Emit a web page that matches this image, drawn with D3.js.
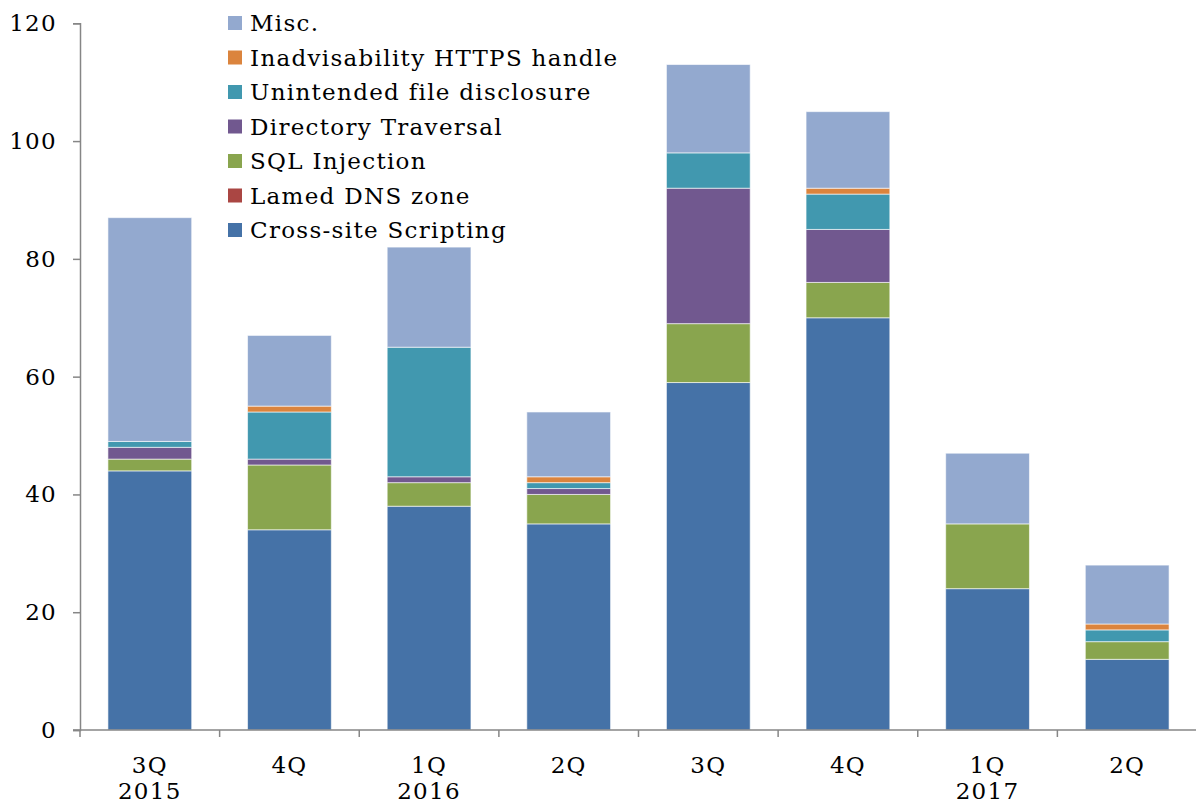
<!DOCTYPE html>
<html>
<head>
<meta charset="utf-8">
<script src="https://cdn.jsdelivr.net/npm/d3@7"></script>
<style>
  body { margin: 0; background: #fff; }
  text { font-family: "DejaVu Serif", serif; fill: #000; letter-spacing: 1.3px; }
</style>
</head>
<body>
<div id="chart"></div>
<script>
// quarters along the x axis, with the year shown under some of them
const quarters = ["3Q", "4Q", "1Q", "2Q", "3Q", "4Q", "1Q", "2Q"];
const years = ["2015", "", "2016", "", "", "", "2017", ""];

// series, bottom to top
const seriesNames = [
  "Cross-site Scripting",
  "Lamed DNS zone",
  "SQL Injection",
  "Directory Traversal",
  "Unintended file disclosure",
  "Inadvisability HTTPS handle",
  "Misc."
];
const seriesColors = ["#4572A7", "#AA4643", "#89A54E", "#71588F", "#4198AF", "#DB843D", "#93A9CF"];

const xss = [44, 34, 38, 35, 59, 70, 24, 12];
const lamedDns = [0, 0, 0, 0, 0, 0, 0, 0];
const sqlInj = [2, 11, 4, 5, 10, 6, 11, 3];
const dirTrav = [2, 1, 1, 1, 23, 9, 0, 0];
const fileDisc = [1, 8, 22, 1, 6, 6, 0, 2];
const httpsHandle = [0, 1, 0, 1, 0, 1, 0, 1];
const misc = [38, 12, 17, 11, 15, 13, 12, 10];

const yTicks = [0, 20, 40, 60, 80, 100, 120];

const allSeries = [xss, lamedDns, sqlInj, dirTrav, fileDisc, httpsHandle, misc];

const width = 1196, height = 805;
const svg = d3.select("#chart").append("svg")
  .attr("width", width).attr("height", height);

// build rows for d3.stack
const rows = quarters.map((q, i) => {
  const r = { idx: i };
  seriesNames.forEach((s, k) => { r[s] = allSeries[k][i]; });
  return r;
});
const stacked = d3.stack().keys(seriesNames)(rows);

const x = d3.scaleBand()
  .domain(d3.range(quarters.length))
  .range([80, 1197])
  .paddingInner(0.4)
  .paddingOuter(0.2);

const y = d3.scaleLinear().domain([0, 120]).range([730, 23.3]);

// bars
svg.append("g")
  .selectAll("g")
  .data(stacked)
  .join("g")
  .attr("fill", (d, k) => seriesColors[k])
  .selectAll("rect")
  .data(d => d.filter(v => v[1] - v[0] > 0))
  .join("rect")
  .attr("x", d => x(d.data.idx))
  .attr("width", x.bandwidth())
  .attr("y", d => y(d[1]))
  .attr("height", d => y(d[0]) - y(d[1]))
  .attr("stroke", "#fff")
  .attr("stroke-opacity", 0.6)
  .attr("stroke-width", 1);

const axisColor = "#868686";

// y axis
const yAxis = svg.append("g")
  .attr("transform", "translate(80,0)")
  .call(d3.axisLeft(y).tickValues(yTicks).tickSize(7).tickPadding(16).tickFormat(d3.format("d")));
yAxis.select(".domain").attr("stroke", axisColor).attr("stroke-width", 1.5);
yAxis.selectAll(".tick line").attr("stroke", axisColor).attr("stroke-width", 1.5);
yAxis.selectAll(".tick text").style("font-size", "23px").style("font-family", "DejaVu Serif");

// x axis: line plus ticks at category boundaries
const step = x.step();
const xStart = x.range()[0];
svg.append("line")
  .attr("x1", 73).attr("x2", x.range()[1])
  .attr("y1", y(0)).attr("y2", y(0))
  .attr("stroke", axisColor).attr("stroke-width", 1.5);
svg.append("g")
  .selectAll("line")
  .data(d3.range(quarters.length + 1))
  .join("line")
  .attr("x1", i => xStart + i * step)
  .attr("x2", i => xStart + i * step)
  .attr("y1", y(0)).attr("y2", y(0) + 7)
  .attr("stroke", axisColor).attr("stroke-width", 1.5);

const xLabels = svg.append("g").style("font-size", "23px");
xLabels.selectAll("text.q")
  .data(quarters)
  .join("text")
  .attr("class", "q")
  .attr("x", (d, i) => x(i) + x.bandwidth() / 2)
  .attr("y", 773)
  .attr("text-anchor", "middle")
  .text(d => d);
xLabels.selectAll("text.yr")
  .data(years)
  .join("text")
  .attr("class", "yr")
  .attr("x", (d, i) => x(i) + x.bandwidth() / 2)
  .attr("y", 799)
  .attr("text-anchor", "middle")
  .text(d => d);

// legend, top series first
const legendItems = seriesNames.map((s, k) => ({ name: s, color: seriesColors[k] })).reverse();
const legend = svg.append("g").attr("transform", "translate(228,23)");
const li = legend.selectAll("g")
  .data(legendItems)
  .join("g")
  .attr("transform", (d, i) => `translate(0,${i * 34.5})`);
li.append("rect")
  .attr("x", 0).attr("y", -7)
  .attr("width", 14).attr("height", 14)
  .attr("fill", d => d.color);
li.append("text")
  .attr("x", 22).attr("y", 8)
  .style("font-size", "23px")
  .text(d => d.name);
</script>
</body>
</html>
